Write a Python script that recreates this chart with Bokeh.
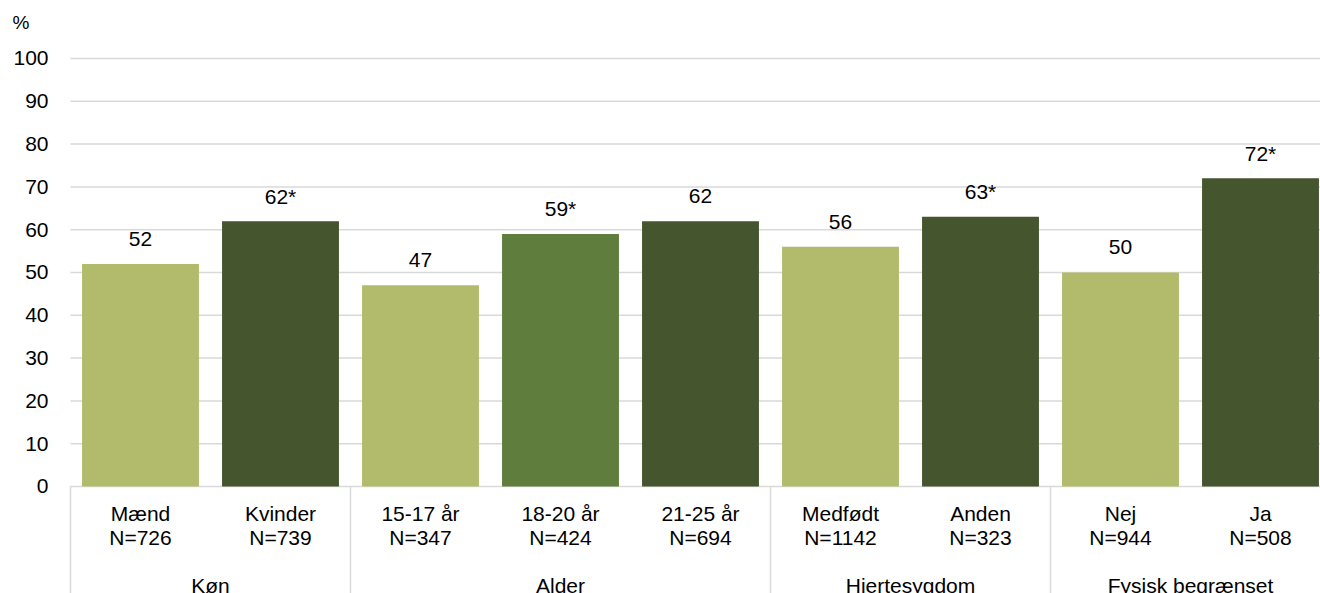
from bokeh.plotting import figure
from bokeh.models import Range1d, ColumnDataSource
from bokeh.core.properties import value
from bokeh.embed import file_html
from bokeh.resources import INLINE

categories = ["Mænd", "Kvinder", "15-17 år", "18-20 år", "21-25 år", "Medfødt", "Anden", "Nej", "Ja"]
n_labels = ["N=726", "N=739", "N=347", "N=424", "N=694", "N=1142", "N=323", "N=944", "N=508"]
values = [52, 62, 47, 59, 62, 56, 63, 50, 72]
value_labels = ["52", "62*", "47", "59*", "62", "56", "63*", "50", "72*"]
groups = ["Køn", "Alder", "Hjertesygdom", "Fysisk begrænset"]
group_sizes = [2, 3, 2, 2]
y_ticks = [0, 10, 20, 30, 40, 50, 60, 70, 80, 90, 100]
y_unit = "%"

LIGHT = "#B2BB6B"
MID = "#5F7D3C"
DARK = "#45552E"
bar_colors = [LIGHT, DARK, LIGHT, MID, DARK, LIGHT, DARK, LIGHT, DARK]

FONT = "Liberation Sans"
GRID = "#D9D9D9"
xs = list(range(len(categories)))

X0, X1 = -1.0, 8.4286
p = figure(width=1320, height=593, output_backend="svg", toolbar_location=None,
           x_range=Range1d(X0, X1), y_range=Range1d(-25.0, 113.55),
           min_border_left=0, min_border_right=0, min_border_top=0, min_border_bottom=0)
p.outline_line_color = None
p.xaxis.visible = False
p.yaxis.visible = False
p.grid.visible = False
p.background_fill_color = "white"
p.border_fill_color = "white"

# horizontal grid lines (incl. baseline at 0)
p.segment(x0=[-0.5] * len(y_ticks), y0=y_ticks, x1=[X1 + 1] * len(y_ticks), y1=y_ticks,
          line_color=GRID, line_width=1.5)
# y tick labels
p.text(x=[-0.657] * len(y_ticks), y=y_ticks, text=[str(t) for t in y_ticks],
       text_align="right", text_baseline="middle", text_font=value(FONT),
       text_font_size="21px", text_color="black")
p.text(x=[-0.914], y=[108.4], text=[y_unit], text_align="left", text_baseline="middle",
       text_font=value(FONT), text_font_size="19px", text_color="black")

src = ColumnDataSource(dict(x=xs, top=values, color=bar_colors, vlab=value_labels,
                            cat=categories, n=n_labels))
p.vbar(x="x", top="top", bottom=0, width=0.835, fill_color="color", line_color=None, source=src)

p.text(x="x", y="top", text="vlab", source=src, text_align="center", text_baseline="alphabetic",
       y_offset=-25, text_font=value(FONT), text_font_size="21px", text_color="black")
p.text(x="x", y=-6.2, text="cat", source=src, text_align="center", text_baseline="middle",
       text_font=value(FONT), text_font_size="21px", text_color="black")
p.text(x="x", y=-11.9, text="n", source=src, text_align="center", text_baseline="middle",
       text_font=value(FONT), text_font_size="21px", text_color="black")

# group separators and labels
bounds = [-0.5]
for s in group_sizes:
    bounds.append(bounds[-1] + s)
p.segment(x0=bounds, y0=[0] * len(bounds), x1=bounds, y1=[-30] * len(bounds),
          line_color=GRID, line_width=1.5)
gx = [(bounds[i] + bounds[i + 1]) / 2 for i in range(len(groups))]
p.text(x=gx, y=[-23.1] * len(groups), text=groups, text_align="center", text_baseline="middle",
       text_font=value(FONT), text_font_size="21px", text_color="black")

open("out.html", "w").write(file_html(p, INLINE))
